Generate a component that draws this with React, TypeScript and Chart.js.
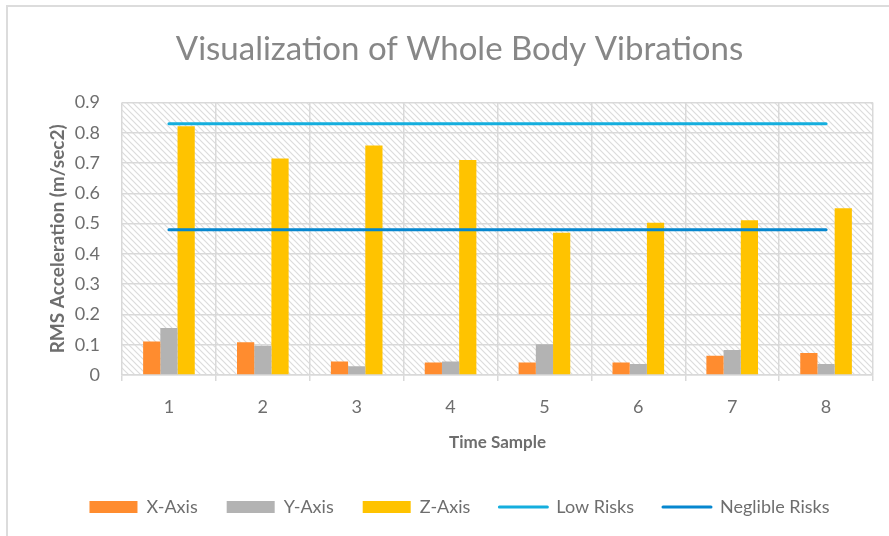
import React, { useEffect, useRef } from "react";
import { Chart, registerables } from "chart.js";

Chart.register(...registerables);

const categories = ["1", "2", "3", "4", "5", "6", "7", "8"];
const xAxisValues = [0.111, 0.108, 0.045, 0.041, 0.041, 0.041, 0.064, 0.073];
const yAxisValues = [0.155, 0.097, 0.029, 0.045, 0.102, 0.036, 0.083, 0.036];
const zAxisValues = [0.822, 0.715, 0.758, 0.71, 0.47, 0.503, 0.511, 0.551];
const lowRisks = [0.83, 0.83, 0.83, 0.83, 0.83, 0.83, 0.83, 0.83];
const neglibleRisks = [0.48, 0.48, 0.48, 0.48, 0.48, 0.48, 0.48, 0.48];

const FONT = "Lato";

function makePattern(): CanvasPattern | string {
  const c = document.createElement("canvas");
  c.width = 6;
  c.height = 6;
  const g = c.getContext("2d");
  if (!g) return "#fff";
  g.fillStyle = "#ffffff";
  g.fillRect(0, 0, 6, 6);
  g.strokeStyle = "#dcdcdc";
  g.lineWidth = 1.2;
  g.beginPath();
  g.moveTo(-1, -1);
  g.lineTo(7, 7);
  g.moveTo(-1, 5);
  g.lineTo(1, 7);
  g.moveTo(5, -1);
  g.lineTo(7, 1);
  g.stroke();
  const p = g.createPattern(c, "repeat");
  return p || "#fff";
}

const hatchPlugin = {
  id: "hatchBg",
  beforeDraw(chart: any) {
    const { ctx, chartArea } = chart;
    if (!chartArea) return;
    ctx.save();
    ctx.fillStyle = makePattern();
    ctx.fillRect(chartArea.left, chartArea.top, chartArea.right - chartArea.left, chartArea.bottom - chartArea.top);
    ctx.restore();
  },
};

export default function App() {
  const ref = useRef<HTMLCanvasElement>(null);
  useEffect(() => {
    if (!ref.current) return;
    const chart = new Chart(ref.current, {
      type: "bar",
      data: {
        labels: categories,
        datasets: [
          { type: "bar", label: "X-Axis", data: xAxisValues, backgroundColor: "#FF8C2F", order: 2 } as any,
          { type: "bar", label: "Y-Axis", data: yAxisValues, backgroundColor: "#B3B3B3", order: 2 } as any,
          { type: "bar", label: "Z-Axis", data: zAxisValues, backgroundColor: "#FFC300", order: 2 } as any,
          {
            type: "line", label: "Low Risks", data: lowRisks, borderColor: "#14AEDE", backgroundColor: "#14AEDE",
            borderWidth: 3, pointRadius: 0, borderCapStyle: "round", order: 1,
          } as any,
          {
            type: "line", label: "Neglible Risks", data: neglibleRisks, borderColor: "#0687CF", backgroundColor: "#0687CF",
            borderWidth: 3, pointRadius: 0, borderCapStyle: "round", order: 1,
          } as any,
        ],
      },
      options: {
        responsive: false,
        animation: false,
        layout: { padding: { left: 46, right: 16, top: 14, bottom: 10 } },
        datasets: { bar: { categoryPercentage: 0.55, barPercentage: 1.0 } } as any,
        plugins: {
          tooltip: { enabled: false },
          title: {
            display: true,
            text: "Visualization of Whole Body Vibrations",
            color: "#878787",
            font: { family: FONT, size: 33, weight: "normal" },
            padding: { top: 16, bottom: 33 },
          },
          legend: {
            position: "bottom",
            labels: {
              usePointStyle: true,
              pointStyleWidth: 48,
              boxHeight: 12,
              color: "#6E6E6E",
              font: { family: FONT, size: 18 },
              padding: 29,
              sort: (a: any, b: any) => a.datasetIndex - b.datasetIndex,
              generateLabels: (chart: any) => {
                const items = Chart.defaults.plugins.legend.labels.generateLabels(chart);
                return items.map((it: any) => {
                  const ds = chart.data.datasets[it.datasetIndex];
                  if (ds.type === "line") {
                    return { ...it, pointStyle: "line", lineWidth: 3, strokeStyle: ds.borderColor, lineCap: "round" };
                  }
                  return { ...it, pointStyle: "rect", lineWidth: 0, fillStyle: ds.backgroundColor, strokeStyle: ds.backgroundColor };
                });
              },
            },
          },
        },
        scales: {
          x: {
            offset: true,
            grid: { offset: true, color: "#D9D9D9", lineWidth: 1.5, tickLength: 6, drawTicks: true },
            border: { color: "#D9D9D9", width: 1.5 },
            ticks: { color: "#6E6E6E", font: { family: FONT, size: 18 }, padding: 15 },
            title: {
              display: true,
              text: "Time Sample",
              color: "#6E6E6E",
              font: { family: FONT, size: 17, weight: "bold" },
              padding: { top: 0, bottom: 16 },
            },
          },
          y: {
            min: 0,
            max: 0.9,
            afterFit: (s: any) => {
              s.width = 76;
            },
            ticks: {
              stepSize: 0.1,
              color: "#6E6E6E",
              font: { family: FONT, size: 18 },
              padding: 22,
              callback: (v: any) => (Math.round(Number(v) * 10) / 10).toString(),
            },
            grid: { color: "#D9D9D9", lineWidth: 1.5, drawTicks: false },
            border: { display: false },
            title: {
              display: true,
              text: "RMS Acceleration (m/sec2)",
              color: "#6E6E6E",
              font: { family: FONT, size: 19, weight: "bold" },
              padding: { top: 0, bottom: 0 },
            },
          },
        },
      },
      plugins: [hatchPlugin],
    });
    return () => chart.destroy();
  }, []);

  return (
    <div style={{ position: "fixed", left: 0, top: 0, width: 889, height: 536, overflow: "hidden", background: "#fff" }}>
      <div
        style={{
          position: "absolute",
          left: 6,
          top: 5,
          width: 1000,
          height: 1000,
          border: "2px solid #DCDCDC",
          boxSizing: "border-box",
        }}
      />
      <canvas ref={ref} width={889} height={536} style={{ position: "absolute", left: 0, top: 0, width: 889, height: 536 }} />
    </div>
  );
}
